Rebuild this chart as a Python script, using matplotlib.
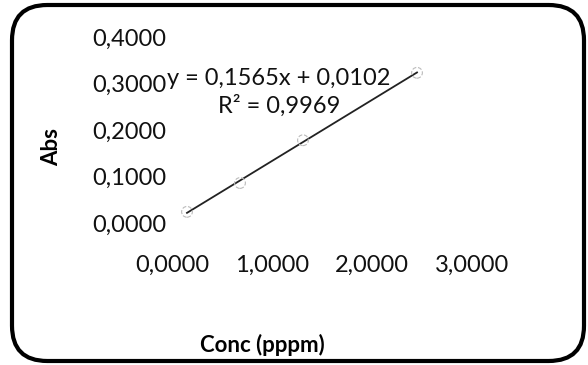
import numpy as np
import matplotlib
matplotlib.use('Agg')
import matplotlib.pyplot as plt
from matplotlib.patches import FancyBboxPatch

plt.rcParams['font.family'] = ['Lato', 'DejaVu Sans']

# values
conc = [0.15, 0.68, 1.31, 2.45]
absorb = [0.024, 0.086, 0.178, 0.323]
x_ticks = [0.0, 1.0, 2.0, 3.0]
y_ticks = [0.0, 0.1, 0.2, 0.3, 0.4]
eq_text = 'y = 0,1565x + 0,0102\nR² = 0,9969'

W, H = 588, 365
fig = plt.figure(figsize=(W / 100, H / 100), dpi=100)

# rounded frame around the whole chart
frame = FancyBboxPatch((12 / W, 4 / H), 572 / W, 356 / H,
                       boxstyle='round,pad=0,rounding_size=0.06',
                       transform=fig.transFigure, fill=False,
                       edgecolor='black', linewidth=3,
                       mutation_aspect=W / H)
fig.patches.append(frame)

ax = fig.add_axes([172 / W, (H - 223) / H, 300 / W, 186 / H])
ax.set_xlim(0, 3)
ax.set_ylim(0, 0.4)
for s in ax.spines.values():
    s.set_visible(False)

fit = np.polyfit(conc, absorb, 1)
xs = np.array([conc[0], conc[-1]])
ax.plot(xs, np.polyval(fit, xs), color='#222222', lw=1.3)
ax.scatter(conc, absorb, s=60, facecolors='none', edgecolors='#bbbbbb',
           linewidths=0.8, linestyle='--', zorder=3)

ax.set_xticks(x_ticks)
ax.set_yticks(y_ticks)
ax.set_xticklabels([f'{v:.4f}'.replace('.', ',') for v in x_ticks])
ax.set_yticklabels([f'{v:.4f}'.replace('.', ',') for v in y_ticks])
ax.tick_params(axis='x', length=0, pad=23, labelsize=17, colors='#111111')
ax.tick_params(axis='y', length=0, pad=4, labelsize=17, colors='#111111')

fig.text(262 / W, 1 - 345 / H, 'Conc (pppm)', fontsize=16, fontweight='bold',
         ha='center', va='center')
fig.text(52 / W, 1 - 147 / H, 'Abs', fontsize=16, fontweight='bold',
         rotation=90, ha='center', va='center')

ax.text(1.07, 0.281, eq_text, fontsize=17, ha='center', va='center',
        linespacing=1.35, color='#111111')

fig.savefig('out.png', dpi=100)
